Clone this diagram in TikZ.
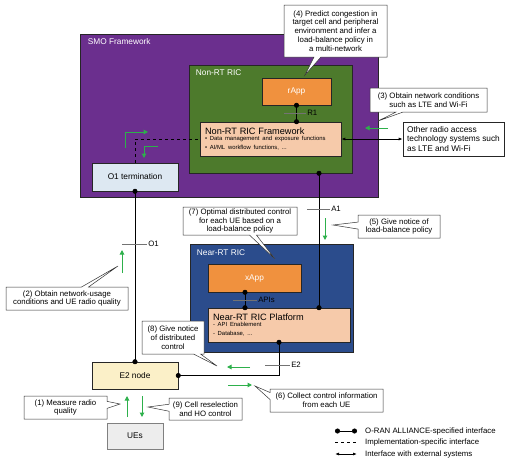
\documentclass[tikz,border=0pt]{standalone}
\usepackage{fontspec}
\setmainfont{Liberation Sans}
\usetikzlibrary{arrows.meta,shapes.callouts}

\definecolor{smopurple}{HTML}{6B2F8E}
\definecolor{ricgreen}{HTML}{4D7A2C}
\definecolor{ricblue}{HTML}{2B4C8C}
\definecolor{apporange}{HTML}{F0913E}
\definecolor{fwpeach}{HTML}{F6CAAA}
\definecolor{otblue}{HTML}{DDE8F2}
\definecolor{e2yellow}{HTML}{FBF0C8}
\definecolor{flowgreen}{HTML}{2DB04B}

\newcommand\smalltxt{\fontsize{5.9}{7.4}\selectfont}
\newcommand\headtxt{\fontsize{9.2}{10}\selectfont}

\begin{document}
\begin{tikzpicture}
  [
    x=1pt, y=-1pt,
    font=\fontsize{8.3}{9.5}\selectfont,
    box/.style={draw=black!85, line width=0.6pt, inner sep=2pt},
    region/.style={box, fill=#1},
    title/.style={text=white, anchor=north west, inner sep=0pt},
    app node/.style={box, fill=apporange, text=white},
    plat node/.style={box, fill=fwpeach, align=left, inner sep=5pt},
    note/.style={rectangle callout, draw=black!80, fill=white, line width=0.5pt,
      align=center, inner sep=1pt, callout pointer width=7pt,
      font=\fontsize{7.8}{8.8}\selectfont},
    iface/.style={line width=0.8pt, {Circle[length=5pt]}-{Circle[length=5pt]},
      shorten <=-2.5pt, shorten >=-2.5pt},
    impl/.style={line width=0.8pt, dashed},
    ext/.style={line width=0.8pt, {Latex[length=4pt]}-{Latex[length=4pt]}},
    flow/.style={flowgreen, line width=1pt, -{Triangle[length=4.5pt,width=4.5pt]}},
    tick/.style={black!55, line width=0.5pt},
    tick label/.style={right, inner sep=1pt, text=black, font=\fontsize{7.8}{9}\selectfont},
  ]
  \useasboundingbox (0,0) rectangle (510,464);

  % containers
  \node(smo)[region=smopurple, minimum width=298, minimum height=163] at (229,115.5){};
  \node[title] at ([shift={(8,5)}]smo.north west){SMO Framework};
  \node(nonrt)[region=ricgreen, minimum width=163, minimum height=108] at (270.5,119){};
  \node[title] at ([shift={(7,5)}]nonrt.north west){Non-RT RIC};
  \node(nearrt)[region=ricblue, minimum width=163, minimum height=108] at (271.5,298){};
  \node[title] at ([shift={(7,6)}]nearrt.north west){Near-RT RIC};

  % boxes
  \node(rapp)[app node, minimum width=69, minimum height=27] at (296.5,91.5){rApp};
  \node(fw)[plat node, minimum width=141, minimum height=34, text width=131] at (270.5,139)
    {{\headtxt Non-RT RIC Framework}\\[-1pt]
     \smalltxt\textbullet{} Data management and exposure functions\\
     \textbullet{} AI/ML workflow functions, ...};
  \node(o1t)[box, fill=otblue, minimum width=86, minimum height=28] at (135,177){O1 termination};
  \node(xapp)[app node, minimum width=93, minimum height=28] at (254.5,278){xApp};
  \node(plat)[plat node, minimum width=142, minimum height=34, text width=132] at (279,325)
    {{\headtxt Near-RT RIC Platform}\\[-1pt]
     \smalltxt - API Enablement\\
     - Database, ...};
  \node(e2)[box, fill=e2yellow, minimum width=86, minimum height=27] at (135,375.5){E2 node};
  \node(ues)[box, draw=black!50, fill=black!7, minimum width=56, minimum height=26] at (135,436){UEs};
  \node(other)[box, fill=white, minimum width=101, minimum height=34, align=left] at (453.5,139)
    {Other radio access\\technology systems such\\as LTE and Wi-Fi};

  % interfaces
  \draw[iface] (rapp.south) -- (rapp.south |- fw.north);
  \draw[tick] (284,113) -- (306,113) node[tick label]{R1};
  \draw[iface] ([xshift=-9.5pt]xapp.south) -- ([xshift=-9.5pt]xapp.south |- plat.north);
  \draw[tick] (233,300) -- (257,300) node[tick label]{APIs};
  \draw[iface] ([xshift=48.5pt]nonrt.south) -- ([xshift=48.5pt]nonrt.south |- plat.north);
  \draw[tick] (307,209) -- (330,209) node[tick label]{A1};
  \draw[iface] (o1t.south) -- (e2.north);
  \draw[tick] (122,244) -- (147,244) node[tick label]{O1};
  \draw[iface] (e2.east) -| (plat.south);
  \draw[tick] (265,365) -- (290,365) node[tick label]{E2};
  \draw[impl] (o1t.north) |- (fw.west);
  \draw[ext] (fw.east) -- (other.west);

  % flows
  \draw[flow] (125,148) |- (148,132);
  \draw[flow] (158,146) -| (144,158);
  \draw[flow] (122,273) -- (122,250);
  \draw[flow] (325,218) -- (325,240);
  \draw[flow] (388,128) -- (365,128);
  \draw[flow] (250,367) -- (227,367);
  \draw[flow] (228,385) -- (252,385);
  \draw[flow] (127,417) -- (127,396);
  \draw[flow] (142,396) -- (142,417);

  % callouts
  \node(c4)[note, minimum width=103, minimum height=52, callout absolute pointer={(305,75)}] at (335.5,31)
    {(4) Predict congestion in\\target cell and peripheral\\environment and infer a\\load-balance policy in\\a multi-network};
  \node(c3)[note, minimum width=117, minimum height=24, callout absolute pointer={(378,121)}] at (428.5,100)
    {(3) Obtain network conditions\\such as LTE and Wi-Fi};
  \node(c7)[note, minimum width=114, minimum height=28, callout absolute pointer={(275,259)}] at (240,221)
    {(7) Optimal distributed control\\for each UE based on a\\load-balance policy};
  \node(c5)[note, minimum width=82, minimum height=23, callout absolute pointer={(333,225)}] at (399,226.5)
    {(5) Give notice of\\load-balance policy};
  \node(c2)[note, minimum width=122, minimum height=23, callout absolute pointer={(118,266)}] at (67,298.5)
    {(2) Obtain network-usage\\conditions and UE radio quality};
  \node(c8)[note, minimum width=62, minimum height=33, callout absolute pointer={(217,366)}] at (173,337.5)
    {(8) Give notice\\of distributed\\control};
  \node(c6)[note, minimum width=113, minimum height=23, callout absolute pointer={(255,386)}] at (326.5,400.5)
    {(6) Collect control information\\from each UE};
  \node(c1)[note, minimum width=83, minimum height=23, callout absolute pointer={(120,404)}] at (65.5,407.5)
    {(1) Measure radio\\quality};
  \node(c9)[note, minimum width=73, minimum height=22, callout absolute pointer={(148,407)}] at (205.5,409)
    {(9) Cell reselection\\and HO control};

  % legend
  \coordinate(l1a) at (335,431); \coordinate(l1b) at (357,431);
  \coordinate(l2a) at (335,442); \coordinate(l2b) at (357,442);
  \coordinate(l3a) at (335,454); \coordinate(l3b) at (357,454);
  \draw[iface, shorten <=0pt, shorten >=0pt] (l1a) -- (l1b);
  \draw[impl] (l2a) -- (l2b);
  \draw[ext] (l3a) -- (l3b);
  \node[anchor=west, inner sep=0pt, font=\fontsize{7.8}{9}\selectfont] at ([xshift=8pt]l1b){O-RAN ALLIANCE-specified interface};
  \node[anchor=west, inner sep=0pt, font=\fontsize{7.8}{9}\selectfont] at ([xshift=8pt]l2b){Implementation-specific interface};
  \node[anchor=west, inner sep=0pt, font=\fontsize{7.8}{9}\selectfont] at ([xshift=8pt]l3b){Interface with external systems};

\end{tikzpicture}
\end{document}
